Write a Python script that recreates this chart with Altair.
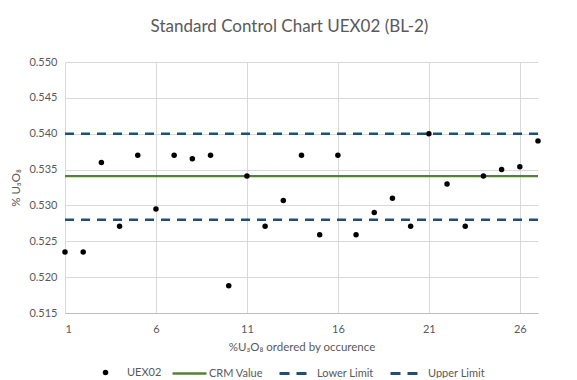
import altair as alt
import pandas as pd

# ---- data ----
sample_no = list(range(1, 28))
uex02 = [0.5235, 0.5235, 0.5360, 0.5271, 0.5370, 0.5295, 0.5370, 0.5365, 0.5370,
         0.5188, 0.5341, 0.5271, 0.5307, 0.5370, 0.5259, 0.5370, 0.5259, 0.5290,
         0.5310, 0.5271, 0.5400, 0.5330, 0.5271, 0.5341, 0.5350, 0.5354, 0.5390]
crm_value = 0.5341
lower_limit = 0.528
upper_limit = 0.540
series_names = ["UEX02", "CRM Value", "Lower Limit", "Upper Limit"]
x_ticks = [1, 6, 11, 16, 21, 26]
y_ticks = [0.515, 0.520, 0.525, 0.530, 0.535, 0.540, 0.545, 0.550]

GREEN = "#548235"
NAVY = "#1F4E79"
TXT = "#595959"
FONT = "Lato"
DASH = [9, 7]

x0, x1 = sample_no[0], sample_no[-1]
pts = pd.DataFrame({"n": sample_no, "value": uex02, "series": series_names[0]})


def hline(val, name):
    return pd.DataFrame({"n": [x0, x1], "value": [val, val], "series": [name, name]})


xenc = alt.X("n:Q", scale=alt.Scale(domain=[1, 27], nice=False, zero=False),
             axis=alt.Axis(values=x_ticks, title="%U\u2083O\u2088 ordered by occurence",
                           format="d", grid=True, ticks=False, labelPadding=10,
                           titlePadding=7))
yenc = alt.Y("value:Q", scale=alt.Scale(domain=[0.515, 0.550], nice=False, zero=False),
             axis=alt.Axis(values=y_ticks, format=".3f", title="% U\u2083O\u2088",
                           grid=True, ticks=False, domain=False, labelPadding=8,
                           titlePadding=7))

LEG_C = 311  # legend row centre, relative to plot top
common = dict(orient="none", title=None, labelFont=FONT,
              labelFontSize=11, labelColor=TXT, padding=0)


def color(name, col, sym_h, **kw):
    return alt.Color("series:N", scale=alt.Scale(domain=[name], range=[col]),
                     legend=alt.Legend(**common, legendY=LEG_C - sym_h / 2, **kw))


points = alt.Chart(pts).mark_circle(size=30, opacity=1).encode(
    x=xenc, y=yenc,
    color=color(series_names[0], "#000000", 12, legendX=35, symbolType="circle",
                symbolSize=30, symbolOpacity=1, labelOffset=16))
crm = alt.Chart(hline(crm_value, series_names[1])).mark_line(strokeWidth=2.25).encode(
    x=xenc, y=yenc,
    color=color(series_names[1], GREEN, 36, legendX=106, symbolType="stroke",
                symbolSize=1156, symbolStrokeWidth=2.5, labelOffset=1))
lower = alt.Chart(hline(lower_limit, series_names[2])).mark_line(
    strokeWidth=2.5, strokeDash=DASH).encode(
    x=xenc, y=yenc,
    color=color(series_names[2], NAVY, 29, legendX=213, symbolType="stroke",
                symbolSize=729, symbolStrokeWidth=3, symbolDash=[10, 7],
                labelOffset=9))
upper = alt.Chart(hline(upper_limit, series_names[3])).mark_line(
    strokeWidth=2.5, strokeDash=DASH).encode(
    x=xenc, y=yenc,
    color=color(series_names[3], NAVY, 29, legendX=324, symbolType="stroke",
                symbolSize=729, symbolStrokeWidth=3, symbolDash=[10, 7],
                labelOffset=9))

chart = alt.layer(crm, lower, upper, points).resolve_scale(
    color="independent").resolve_legend(color="independent").properties(
    width=473, height=251,
    title=alt.TitleParams("Standard Control Chart UEX02 (BL-2)", font=FONT,
                          fontSize=17, fontWeight="normal", color=TXT,
                          anchor="middle", dx=-12, offset=20),
    autosize=alt.AutoSizeParams(type="none"),
    padding={"left": 57, "top": 54, "right": 31, "bottom": 65},
).configure_view(stroke=None).configure_axis(
    labelFont=FONT, labelFontSize=11, labelColor=TXT,
    titleFont=FONT, titleFontSize=11.5, titleFontWeight="normal", titleColor=TXT,
    gridColor="#D9D9D9", gridWidth=1, domainColor="#BFBFBF", domainWidth=1,
)

chart.save("out.html", embed_options={"renderer": "svg", "actions": False})
